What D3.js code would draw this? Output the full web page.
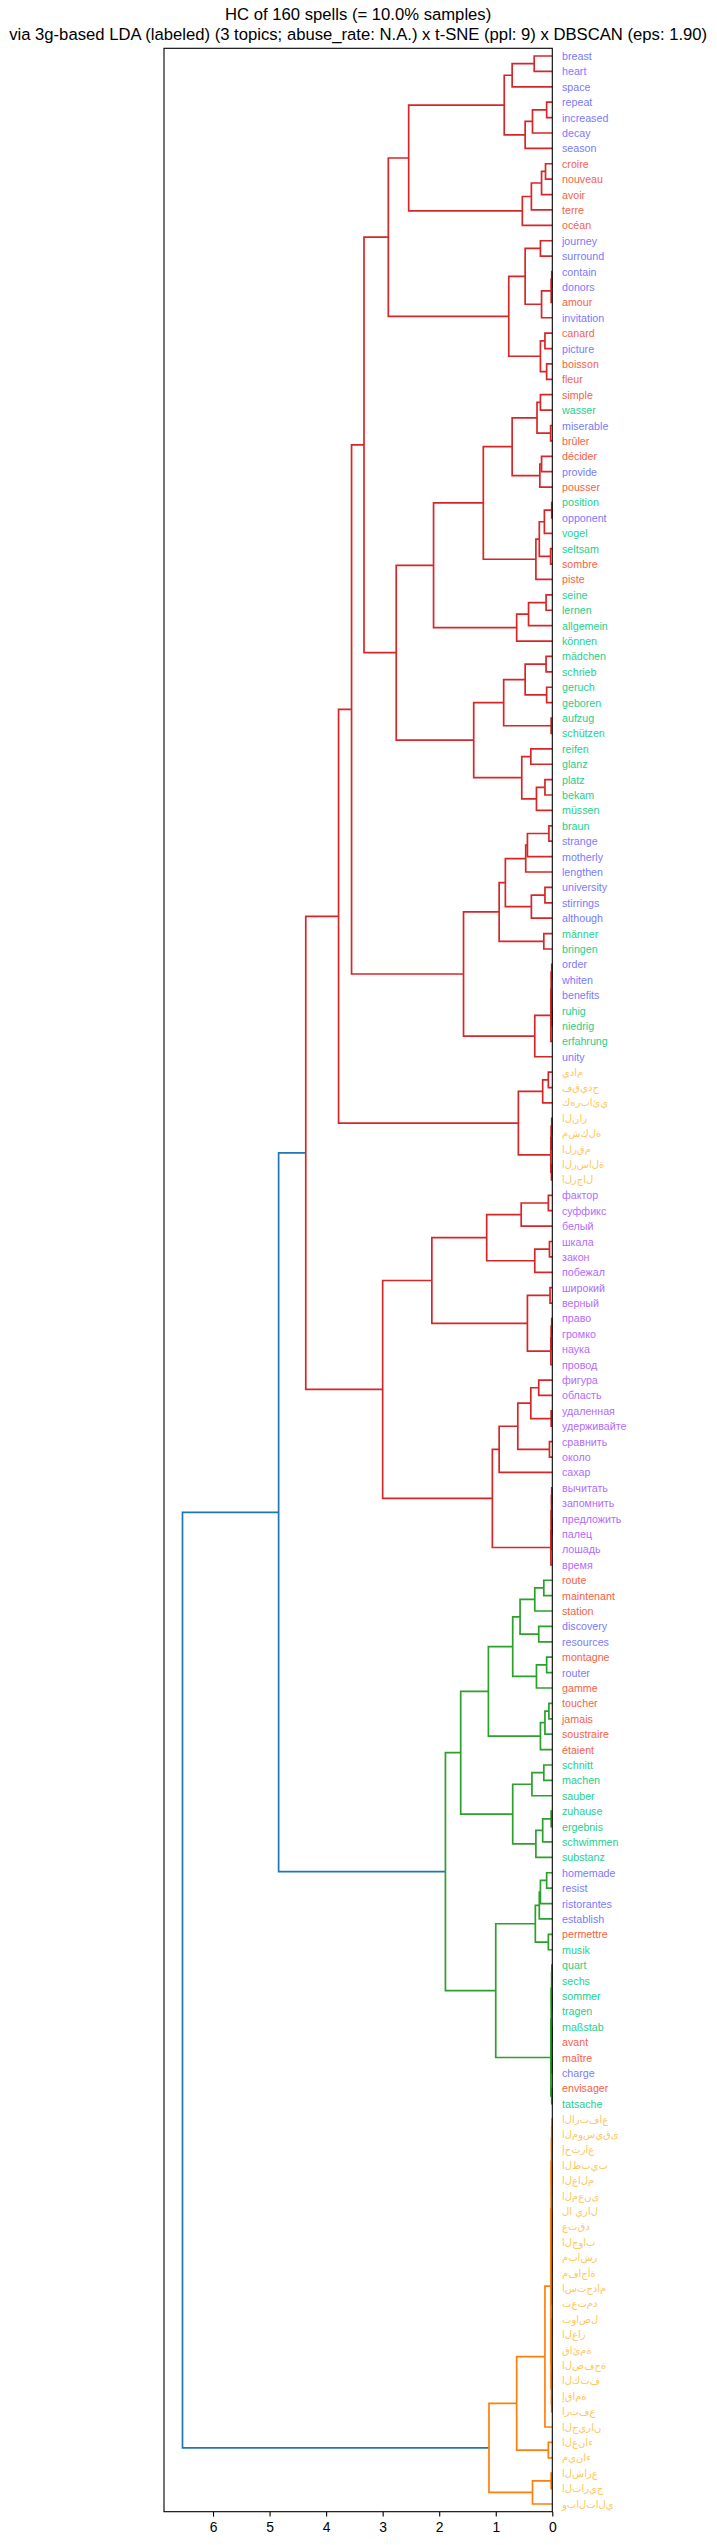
<!DOCTYPE html>
<html><head><meta charset="utf-8">
<script src="https://cdn.jsdelivr.net/npm/d3@7"></script>
<style>
body{margin:0;background:#fff}
svg{display:block}
text{font-family:"Liberation Sans",Arial,Helvetica,sans-serif}
</style>
</head><body>
<svg id="chart" width="717" height="2545"></svg>
<script>
// ---------- DATA ----------
const titleLines = [
  "HC of 160 spells (= 10.0% samples)",
  "via 3g-based LDA (labeled) (3 topics; abuse_rate: N.A.) x t-SNE (ppl: 9) x DBSCAN (eps: 1.90)"
];

// leaf labels in display order (top to bottom)
const leafLabels = [
  "breast","heart","space","repeat","increased","decay","season",
  "croire","nouveau","avoir","terre","océan",
  "journey","surround","contain","donors","amour","invitation",
  "canard","picture","boisson","fleur",
  "simple","wasser","miserable","brûler","décider","provide","pousser",
  "position","opponent","vogel","seltsam","sombre","piste",
  "seine","lernen","allgemein","können",
  "mädchen","schrieb","geruch","geboren","aufzug","schützen",
  "reifen","glanz","platz","bekam","müssen",
  "braun","strange","motherly","lengthen","university","stirrings","although",
  "männer","bringen","order","whiten","benefits","ruhig","niedrig","erfahrung","unity",
  "يدام","فقيدح","كهربائي","النار","مشكلة","الرقم","الرسالة","الرجال",
  "фактор","суффикс","белый","шкала","закон","побежал","широкий","верный",
  "право","громко","наука","провод","фигура","область","удаленная","удерживайте",
  "сравнить","около","сахар","вычитать","запомнить","предложить","палец","лошадь","время",
  "route","maintenant","station","discovery","resources","montagne","router","gamme",
  "toucher","jamais","soustraire","étaient",
  "schnitt","machen","sauber","zuhause","ergebnis","schwimmen","substanz",
  "homemade","resist","ristorantes","establish","permettre","musik",
  "quart","sechs","sommer","tragen","maßstab","avant","maître","charge","envisager","tatsache",
  "الارتفاع","الموسيقى","إختراع","الطبيب","العالم","المعنى","لا يزال","عتقد",
  "الجواب","مباشر","مفاجأة","استخدام","تعتمد","تواصل","الغاز","قائمة",
  "الصفحة","الكتف","إقامة","ارتفع","الجيران","الغناء","ميناء","الشارع","التاريخ","وبالتالي"
];

// language of each leaf, same order
const leafLangs = [
  "en","en","en","en","en","en","en",
  "fr","fr","fr","fr","fr",
  "en","en","en","en","fr","en",
  "fr","en","fr","fr",
  "fr","de","en","fr","fr","en","fr",
  "de","en","de","de","fr","fr",
  "de","de","de","de",
  "de","de","de","de","de","de",
  "de","de","de","de","de",
  "de","en","en","en","en","en","en",
  "de","de","en","en","en","de","de","de","en",
  "ar","ar","ar","ar","ar","ar","ar","ar",
  "ru","ru","ru","ru","ru","ru","ru","ru",
  "ru","ru","ru","ru","ru","ru","ru","ru",
  "ru","ru","ru","ru","ru","ru","ru","ru","ru",
  "fr","fr","fr","en","en","fr","en","fr",
  "fr","fr","fr","fr",
  "de","de","de","de","de","de","de",
  "en","en","en","en","fr","de",
  "de","de","de","de","de","fr","fr","en","fr","de",
  "ar","ar","ar","ar","ar","ar","ar","ar",
  "ar","ar","ar","ar","ar","ar","ar","ar",
  "ar","ar","ar","ar","ar","ar","ar","ar","ar","ar"
];

const langColors = {en:"#7a7aff", fr:"#fa5f48", de:"#1ed08f", ru:"#b36bff", ar:"#ffc65a"};
const tickValues = [0,1,2,3,4,5,6];
const clusterPalette = ["#ff7f0e","#2ca02c","#d62728"]; // assigned bottom-up
const aboveColor = "#1f77b4";

// merge tree: [height, upperChild, lowerChild]; integers are 1-based leaf positions
const topA   = [0.85, [0.71, [0.32, 1, 2], 3], [0.48, [0.35, [0.10, 4, 5], 6], 7]];
const topB   = [0.53, [0.37, [0.19, [0.12, 8, 9], 10], 11], 12];
const topC   = [0.77, [0.48, [0.21, 13, 14], [0.19, [0.02, [0.01, 15, 16], 17], 18]],
                      [0.21, [0.13, 19, 20], [0.10, 21, 22]]];
const midD   = [1.22, [0.71, [0.27, [0.21, 23, 24], [0.03, 25, 26]], [0.22, [0.19, 27, 28], 29]],
                      [0.29, [0.23, [0.14, [0.01, 30, 31], 32], [0.03, 33, 34]], 35]];
const midE   = [0.63, [0.42, [0.11, 36, 37], 38], 39];
const midF   = [1.39, [0.86, [0.48, [0.11, 40, 41], [0.10, 42, 43]], [0.02, 44, 45]],
                      [0.54, [0.38, 46, 47], [0.28, [0.13, 48, 49], 50]]];
const midG   = [1.57, [0.94, [0.83, [0.47, [0.44, [0.06, 51, 52], 53], 54], [0.37, [0.13, 55, 56], 57]],
                             [0.15, 58, 59]],
                      [0.31, [0.025, [0.02, [0.01, 60, 61], [0.015, 62, [0.005, 63, 64]]], 65], 66]];
const arabA  = [0.60, [0.17, [0.07, 67, 68], 69], [0.025, [0.02, [0.01, 70, 71], 72], [0.015, 73, 74]]];
const russA  = [2.13, [1.16, [0.55, [0.07, 75, 76], 77], [0.31, [0.05, 78, 79], 80]],
                      [0.44, [0.04, 81, 82], [0.025, [0.02, [0.01, 83, 84], 85], 86]]];
const russB  = [1.06, [0.94, [0.61, [0.38, [0.24, 87, 88], [0.02, 89, 90]], [0.05, 91, 92]], 93],
                      [0.025, [0.02, [0.015, [0.01, 94, 95], [0.008, 96, 97]], 98], 99]];
const greenA = [1.13, [0.70, [0.57, [0.31, [0.15, 100, 101], 102], [0.24, 103, 104]], [0.28, [0.10, 105, 106], 107]],
                      [0.21, [0.13, [0.06, 108, 109], 110], 111]];
const greenB = [0.70, [0.36, [0.15, 112, 113], 114], [0.29, [0.17, [0.02, 115, 116], 117], 118]];
const greenC = [1.00, [0.30, [0.23, [0.21, [0.10, 119, 120], 121], 122], [0.07, 123, 124]],
                      [0.025, [0.02, [0.012, [0.008, 125, 126], [0.01, 127, 128]], [0.015, [0.006, 129, 130], [0.009, 131, 132]]],
                              [0.01, 133, 134]]];
const arabB  = [0.025, [0.02, [0.015, [0.01, [0.005, 135, 136], 137], [0.012, [0.006, 138, 139], 140]],
                              [0.018, [0.012, [0.007, 141, 142], 143], [0.014, [0.008, 144, 145], [0.009, 146, 147]]]],
                       [0.022, [0.016, [0.01, 148, 149], 150], [0.015, [0.009, 151, 152], [0.011, 153, 154]]]];
const arabC  = [1.12, [0.63, [0.13, arabB, 155], [0.07, 156, 157]], [0.35, [0.02, 158, 159], 160]];

const redUpper  = [3.78, [3.55, [3.33, [2.90, [2.54, topA, topB], topC], [2.76, [2.10, midD, midE], midF]], midG], arabA];
const redLower  = [3.00, russA, russB];
const greenTree = [1.89, [1.62, greenA, greenB], greenC];
const tree      = [6.54, [4.84, [4.36, redUpper, redLower], greenTree], arabC];

// ---------- LAYOUT ----------
const W = 717, H = 2545;
const plot = {left:164, right:552.3, top:48.3, bottom:2511.7};
const maxH = tree[0];
const x = d3.scaleLinear().domain([maxH * 1.05, 0]).range([plot.left, plot.right]);
const y = d3.scaleLinear().domain([0, leafLabels.length * 10]).range([plot.top, plot.bottom]);

function build(n) {
  if (typeof n === "number") return {leaf: n - 1, h: 0, y: y(5 + 10 * (n - 1))};
  const a = build(n[1]), b = build(n[2]);
  return {h: n[0], a, b, y: (a.y + b.y) / 2};
}
const root = build(tree);

// cluster colouring like scipy (threshold = 0.7 * max height)
const threshold = 0.7 * maxH;
const clusterRoots = [];
(function findClusters(n) {
  if (n.leaf !== undefined) return;
  if (n.h < threshold) { clusterRoots.push(n); return; }
  findClusters(n.a); findClusters(n.b);
})(root);
clusterRoots.sort((p, q) => q.y - p.y);
clusterRoots.forEach((c, i) => { c.clusterColor = clusterPalette[i % clusterPalette.length]; });

const links = [];
(function collect(n, color) {
  if (n.leaf !== undefined) return;
  const c = n.clusterColor || color;
  links.push({n, color: c || aboveColor});
  collect(n.a, c); collect(n.b, c);
})(root, null);

// ---------- DRAW ----------
const svg = d3.select("#chart");
svg.append("rect").attr("width", W).attr("height", H).attr("fill", "#fff");

svg.append("g").selectAll("path").data(links).join("path")
  .attr("fill", "none")
  .attr("stroke", d => d.color)
  .attr("stroke-width", 1.7)
  .attr("stroke-linejoin", "miter")
  .attr("d", d => `M${x(d.n.a.h)},${d.n.a.y}H${x(d.n.h)}V${d.n.b.y}H${x(d.n.b.h)}`);

// frame
svg.append("rect")
  .attr("x", plot.left).attr("y", plot.top)
  .attr("width", plot.right - plot.left).attr("height", plot.bottom - plot.top)
  .attr("fill", "none").attr("stroke", "#000").attr("stroke-width", 1.1);

// x axis
const axis = svg.append("g").attr("transform", `translate(0,${plot.bottom})`)
  .call(d3.axisBottom(x).tickValues(tickValues).tickFormat(d3.format("d")).tickSize(4.9).tickPadding(5.5));
axis.select(".domain").remove();
axis.selectAll("line").attr("stroke", "#000").attr("stroke-width", 1.1);
axis.selectAll("text").attr("fill", "#000").style("font-size", "13.9px")
  .style("font-family", '"Liberation Sans",Arial,sans-serif');

// leaf labels
const isArabic = s => /[\u0600-\u06FF]/.test(s);
svg.append("g").selectAll("text").data(leafLabels).join("text")
  .attr("x", plot.right + 9.7)
  .attr("y", (d, i) => y(5 + 10 * i))
  .attr("dominant-baseline", "central")
  .attr("fill", (d, i) => langColors[leafLangs[i]])
  .style("font-size", "10.7px")
  .each(function(d) {
    if (isArabic(d)) {
      // matplotlib draws unshaped, isolated letters left-to-right
      d3.select(this)
        .style("direction", "ltr")
        .style("unicode-bidi", "bidi-override")
        .style("font-family", '"DejaVu Sans",sans-serif')
        .style("font-size", "10px")
        .text(Array.from(d).join("\u200C"));
    } else {
      d3.select(this).text(d);
    }
  });

// title
svg.append("g").selectAll("text").data(titleLines).join("text")
  .attr("x", (plot.left + plot.right) / 2)
  .attr("y", (d, i) => 20 + i * 20)
  .attr("text-anchor", "middle")
  .attr("fill", "#000")
  .style("font-size", "16.67px")
  .text(d => d);
</script>
</body></html>
